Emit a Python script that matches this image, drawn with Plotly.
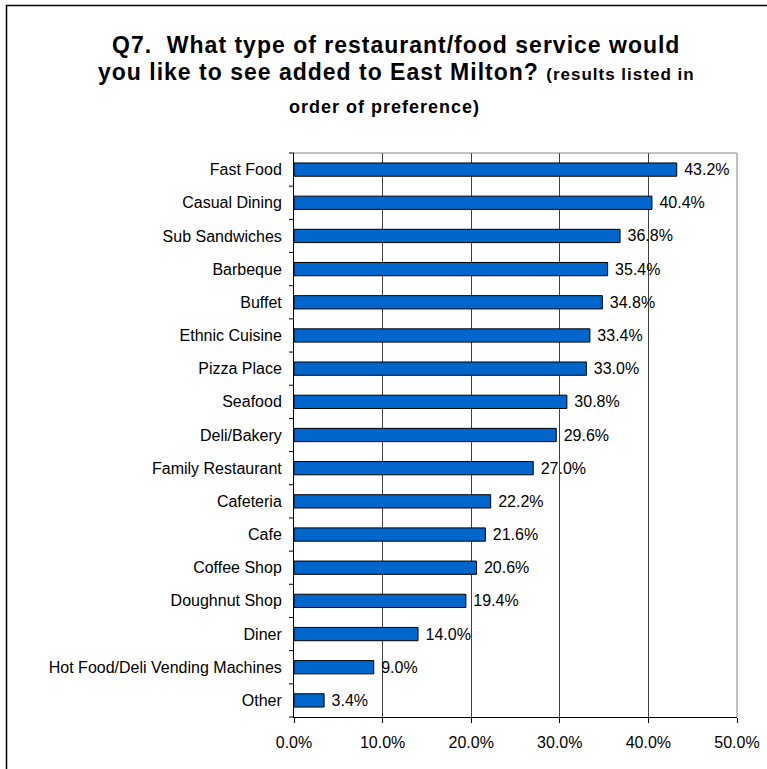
import plotly.graph_objects as go

# Survey results, listed in order of preference
categories = [
    "Fast Food", "Casual Dining", "Sub Sandwiches", "Barbeque", "Buffet",
    "Ethnic Cuisine", "Pizza Place", "Seafood", "Deli/Bakery",
    "Family Restaurant", "Cafeteria", "Cafe", "Coffee Shop",
    "Doughnut Shop", "Diner", "Hot Food/Deli Vending Machines", "Other",
]
percent = [43.2, 40.4, 36.8, 35.4, 34.8, 33.4, 33.0, 30.8, 29.6,
           27.0, 22.2, 21.6, 20.6, 19.4, 14.0, 9.0, 3.4]
x_ticks = [0, 10, 20, 30, 40, 50]
x_tick_labels = ["0.0%", "10.0%", "20.0%", "30.0%", "40.0%", "50.0%"]

FONT = "Liberation Sans, Arial, sans-serif"
W, H = 767, 769
L, R, T, B = 294, 30, 153, 52

fig = go.Figure(go.Bar(
    y=categories,
    x=percent,
    orientation="h",
    width=0.4,
    marker=dict(color="#0066CC", line=dict(color="#000000", width=1)),
    text=[f"\u00a0{v:.1f}%" for v in percent],
    textposition="outside",
    constraintext="none",
    textfont=dict(family=FONT, size=16, color="#000000"),
    cliponaxis=False,
    hoverinfo="skip",
))

fig.update_layout(
    width=W, height=H,
    margin=dict(l=L, r=R, t=T, b=B, autoexpand=False),
    paper_bgcolor="white",
    plot_bgcolor="white",
    showlegend=False,
    font=dict(family=FONT, size=16, color="#000000"),
    xaxis=dict(
        range=[0, 50],
        tickvals=x_ticks,
        ticktext=x_tick_labels,
        showgrid=True,
        gridcolor="#404040",
        gridwidth=1,
        ticks="outside",
        ticklen=5,
        tickcolor="#000000",
        showline=True,
        linecolor="#000000",
        linewidth=1,
        zeroline=False,
        tickfont=dict(family=FONT, size=16),
        ticklabelstandoff=6,
        automargin=False,
        fixedrange=True,
    ),
    yaxis=dict(
        categoryorder="array",
        categoryarray=categories[::-1],
        showgrid=False,
        showline=True,
        linecolor="#000000",
        linewidth=1,
        ticks="",
        tickfont=dict(family=FONT, size=16),
        ticklabelstandoff=8,
        automargin=False,
        fixedrange=True,
    ),
)

# Plot-area border (top and right in gray)
fig.add_shape(type="line", xref="paper", yref="paper", x0=0, x1=1, y0=1, y1=1,
              line=dict(color="#808080", width=1))
fig.add_shape(type="line", xref="paper", yref="paper", x0=1, x1=1, y0=0, y1=1,
              line=dict(color="#808080", width=1))

# Category boundary tick marks on the y axis
n = len(categories)
for i in range(n + 1):
    yy = i / n
    fig.add_shape(type="line", xref="paper", yref="paper",
                  x0=-5 / (W - L - R), x1=0, y0=yy, y1=yy,
                  line=dict(color="#000000", width=1))

# Outer chart frame
pw, ph = W - L - R, H - T - B
def px_x(p):
    return (p - L) / pw
def px_y(p):
    return (H - B - p) / ph
fig.add_shape(type="rect", xref="paper", yref="paper",
              x0=px_x(6.5), x1=px_x(776), y0=px_y(5.5), y1=px_y(790),
              line=dict(color="#000000", width=1.5), fillcolor="rgba(0,0,0,0)",
              layer="below")

# Title lines
SP = "letter-spacing:1px"
title_lines = [
    (f"<b><span style='{SP}'>Q7.  What type of restaurant/food service would</span></b>", 45, 23, 396),
    (f"<b><span style='{SP}'>you like to see added to East Milton? </span>"
     f"<span style='font-size:17px;{SP}'>(results listed in</span></b>", 72, 23, 396),
    (f"<b><span style='{SP}'>order of preference)</span></b>", 107, 18, 384),
]
for txt, ypx, size, xpx in title_lines:
    fig.add_annotation(text=txt, xref="paper", yref="paper",
                       x=px_x(xpx), y=px_y(ypx), xanchor="center", yanchor="middle",
                       showarrow=False, font=dict(family=FONT, size=size, color="#000000"))

fig.write_html("out.html")
